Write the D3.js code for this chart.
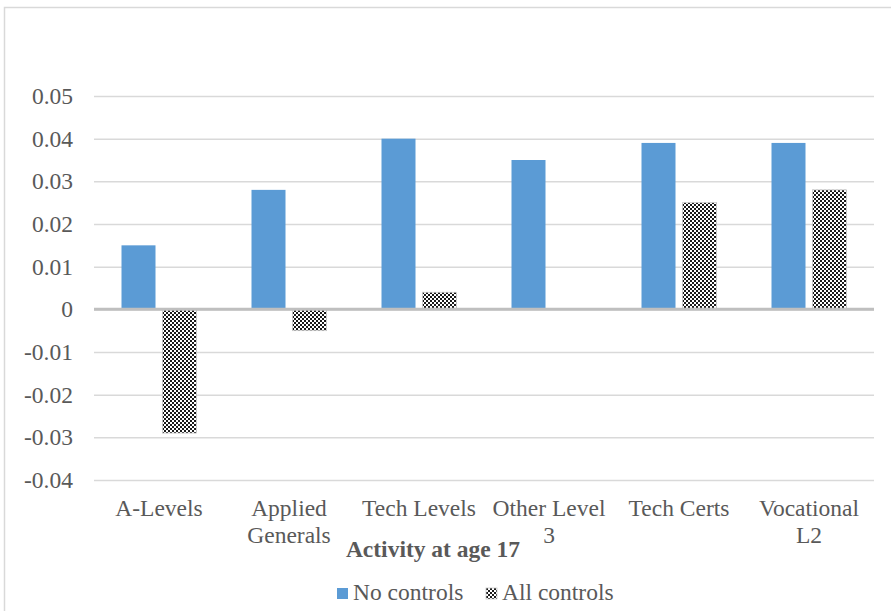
<!DOCTYPE html>
<html>
<head>
<meta charset="utf-8">
<script src="https://cdn.jsdelivr.net/npm/d3@7"></script>
<style>
  body { margin: 0; background: #fff; }
  text { font-family: "Liberation Serif", "Times New Roman", serif; fill: #595959; }
</style>
</head>
<body>
<div id="chart"></div>
<script>
// Data
var categories = ["A-Levels", "Applied Generals", "Tech Levels", "Other Level 3", "Tech Certs", "Vocational L2"];
var seriesNames = ["No controls", "All controls"];
var noControls = [0.015, 0.028, 0.040, 0.035, 0.039, 0.039];
var allControls = [-0.029, -0.005, 0.004, 0, 0.025, 0.028];
var yTicks = [-0.04, -0.03, -0.02, -0.01, 0, 0.01, 0.02, 0.03, 0.04, 0.05];
var axisTitle = "Activity at age 17";

var width = 891, height = 611;
var margin = {top: 96, right: 17, bottom: 131, left: 94};
var fontSize = 23.5;

var svg = d3.select("#chart").append("svg")
  .attr("width", width)
  .attr("height", height);

// Outer chart border
svg.append("rect")
  .attr("x", 4.5).attr("y", 7.5)
  .attr("width", 950).attr("height", 700)
  .attr("fill", "none")
  .attr("stroke", "#d9d9d9")
  .attr("stroke-width", 1.5);

// Checker pattern for "All controls"
var defs = svg.append("defs");
var pat = defs.append("pattern")
  .attr("id", "checker")
  .attr("patternUnits", "userSpaceOnUse")
  .attr("width", 4).attr("height", 4);
pat.append("rect").attr("width", 4).attr("height", 4).attr("fill", "#ffffff");
pat.append("rect").attr("x", 0).attr("y", 0).attr("width", 2).attr("height", 2).attr("fill", "#1a1a1a");
pat.append("rect").attr("x", 2).attr("y", 2).attr("width", 2).attr("height", 2).attr("fill", "#1a1a1a");

var fills = {"No controls": "#5b9bd5", "All controls": "url(#checker)"};

// Scales
var x0 = d3.scaleBand()
  .domain(categories)
  .range([margin.left, width - margin.right])
  .paddingInner(0).paddingOuter(0);

var groupWidth = 75;
var x1 = d3.scaleBand()
  .domain(seriesNames)
  .range([x0.bandwidth() / 2 - groupWidth / 2, x0.bandwidth() / 2 + groupWidth / 2])
  .paddingInner(0.1707);

var y = d3.scaleLinear()
  .domain([-0.04, 0.05])
  .range([480, 96]);

// Y axis with gridlines
var yAxis = d3.axisLeft(y)
  .tickValues(yTicks)
  .tickSize(-(width - margin.left - margin.right))
  .tickPadding(21)
  .tickFormat(function(d){ return String(+d.toFixed(2)); });

var gY = svg.append("g")
  .attr("transform", "translate(" + margin.left + ",0)")
  .call(yAxis);
gY.attr("font-family", null).attr("font-size", null);
gY.select(".domain").remove();
gY.selectAll(".tick line")
  .attr("stroke", "#d9d9d9")
  .attr("stroke-width", 1.5);
gY.selectAll(".tick text")
  .attr("font-size", fontSize)
  .attr("fill", "#595959");

// Bars
var rows = categories.map(function(c, i){
  return {category: c, values: [
    {series: "No controls", value: noControls[i]},
    {series: "All controls", value: allControls[i]}
  ]};
});

var groups = svg.append("g").selectAll("g")
  .data(rows)
  .enter().append("g")
  .attr("transform", function(d){ return "translate(" + x0(d.category) + ",0)"; });

groups.selectAll("rect")
  .data(function(d){ return d.values.filter(function(v){ return v.value !== 0; }); })
  .enter().append("rect")
  .attr("x", function(d){ return x1(d.series); })
  .attr("width", x1.bandwidth())
  .attr("y", function(d){ return d.value > 0 ? y(d.value) : y(0); })
  .attr("height", function(d){ return Math.abs(y(d.value) - y(0)); })
  .attr("fill", function(d){ return fills[d.series]; })
  .attr("stroke", function(d){ return d.series === "All controls" ? "#c8c8c8" : "none"; })
  .attr("stroke-width", 0.8);

// Zero line
svg.append("line")
  .attr("x1", margin.left).attr("x2", width - margin.right)
  .attr("y1", y(0)).attr("y2", y(0))
  .attr("stroke", "#bfbfbf")
  .attr("stroke-width", 3);

// Category labels (wrapped)
var labels = svg.append("g").selectAll("text")
  .data(categories)
  .enter().append("text")
  .attr("x", function(d){ return x0(d) + x0.bandwidth() / 2; })
  .attr("y", 516)
  .attr("text-anchor", "middle")
  .attr("font-size", fontSize)
  .text(function(d){ return d; })
  .call(wrap, 125);

function wrap(texts, w) {
  texts.each(function() {
    var text = d3.select(this),
        words = text.text().split(/\s+/),
        xPos = text.attr("x"),
        line = [],
        tspan = text.text(null).append("tspan").attr("x", xPos).attr("dy", 0);
    words.forEach(function(word){
      line.push(word);
      tspan.text(line.join(" "));
      if (tspan.node().getComputedTextLength() > w && line.length > 1) {
        line.pop();
        tspan.text(line.join(" "));
        line = [word];
        tspan = text.append("tspan").attr("x", xPos).attr("dy", 27).text(word);
      }
    });
  });
}

// Axis title
svg.append("text")
  .attr("x", 433)
  .attr("y", 557)
  .attr("text-anchor", "middle")
  .attr("font-size", fontSize)
  .attr("font-weight", "bold")
  .text(axisTitle);

// Legend
var legendX = [337, 486];
var legend = svg.append("g").selectAll("g")
  .data(seriesNames)
  .enter().append("g")
  .attr("transform", function(d, i){ return "translate(" + legendX[i] + ",588)"; });

legend.append("rect")
  .attr("width", 11).attr("height", 11)
  .attr("fill", function(d){ return fills[d]; })
  .attr("stroke", function(d){ return d === "All controls" ? "#c8c8c8" : "none"; })
  .attr("stroke-width", 0.8);

legend.append("text")
  .attr("x", 16)
  .attr("y", 12)
  .attr("font-size", fontSize)
  .text(function(d){ return d; });
</script>
</body>
</html>
